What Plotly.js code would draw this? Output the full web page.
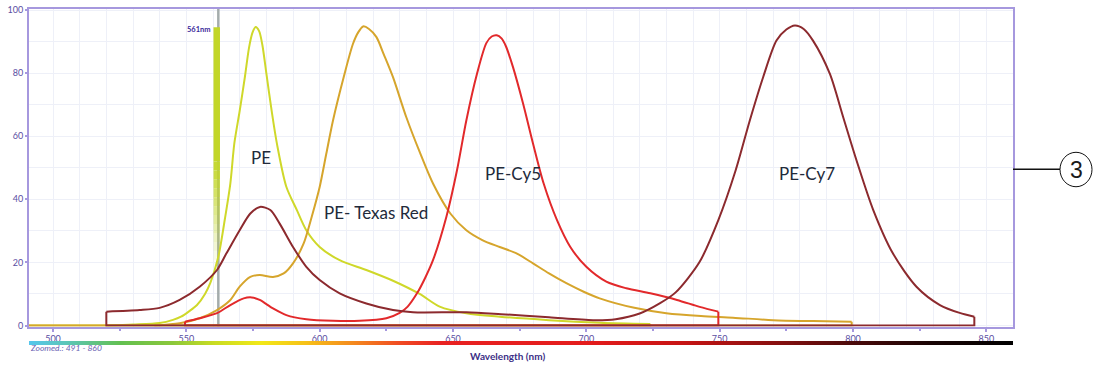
<!DOCTYPE html>
<html>
<head>
<meta charset="utf-8">
<script src="https://cdn.plot.ly/plotly-3.0.1.min.js"></script>
<style>html,body{margin:0;padding:0;background:#fff;}#chart{width:1093px;height:368px;}</style>
</head>
<body>
<div id="chart"></div>
<script>
// ---- data (wavelength nm, relative intensity %) ----
const PE_NM  = [491, 520, 530, 540, 545, 548, 551, 554, 557, 559, 562, 564.5, 566.5, 568, 570, 572, 573.5, 574.8, 576, 577.3, 578.5, 580, 582, 584, 587.5, 591.5, 595, 600, 607.5, 617.5, 627.5, 637.5, 645, 655, 667.5, 686, 705, 724, 724];
const PE_VAL = [0, 0, 0.3, 0.8, 1.8, 2.8, 4.5, 6.5, 10, 13.5, 21.8, 34, 45, 57.7, 68, 79, 88, 92.8, 94.6, 93.3, 89, 80, 68, 57.5, 44, 36.5, 30.2, 24.9, 20.7, 17.6, 14.2, 10, 6.0, 3.9, 2.8, 1.7, 0.9, 0.5, 0];

const TR_NM  = [491, 538, 547.5, 555, 561.5, 566.5, 570, 574, 577.5, 582.5, 586.5, 590, 594, 597, 600, 602.5, 605, 609, 612.5, 614.5, 616.3, 618.5, 621.3, 624, 627.5, 632.5, 637.5, 642.5, 649, 655, 661, 667.5, 674, 680, 686, 692.5, 699, 705, 718, 730, 743, 755, 770, 785, 799.5, 799.5];
const TR_VAL = [0, 0, 0.7, 2.3, 4.9, 8.1, 12.3, 15.4, 16, 15.4, 16.5, 19.7, 26, 34.4, 43.9, 54.5, 65, 78.7, 89.3, 93, 94.8, 94, 91.4, 86, 78.7, 66, 55, 45, 35.5, 30.2, 27.1, 24.9, 22.8, 19.7, 16.5, 13.4, 10.7, 8.6, 5.6, 3.9, 3.0, 2.5, 1.7, 1.4, 1.2, 0];

const CY5_NM  = [549.5, 549.5, 555, 561.5, 566.5, 571.5, 574.5, 577.5, 582.5, 587.5, 595, 605, 615, 625, 630, 633, 636.5, 639.5, 642.5, 647.5, 651.5, 655, 659, 662.5, 664.5, 666.4, 668.2, 669.8, 672.5, 676.3, 680, 684, 689, 694, 700, 707.5, 715, 724, 734, 742.5, 749.5, 749.5];
const CY5_VAL = [0, 1.2, 2.3, 3.9, 6.5, 8.6, 8.9, 8.1, 5.4, 3.3, 2.0, 1.5, 1.5, 2.3, 4.0, 6.0, 10.2, 15, 20.7, 34.4, 49.2, 65, 79.8, 89.5, 91.6, 92, 91, 88.6, 81.9, 70.3, 57.7, 45, 33.4, 24.9, 18.6, 13.9, 11.8, 10.2, 8.1, 5.9, 4.4, 0];

const CY7_NM  = [520, 520, 532.5, 540, 547.5, 555, 561.5, 565, 570, 574, 577.6, 581.5, 585, 590, 595, 600, 607.5, 617.5, 627.5, 635, 655, 668, 686, 702.5, 711, 720, 727.5, 733.5, 742.5, 749.5, 756, 761.3, 766.3, 771.3, 775, 778.2, 781.5, 785, 791.3, 796.3, 801.3, 807.6, 815, 823.8, 832.6, 840, 845.5, 845.5];
const CY7_VAL = [0, 4.4, 4.9, 5.6, 8.1, 12.3, 17.6, 22.8, 30.2, 35.5, 37.6, 36.6, 32.3, 24.9, 18.6, 14.4, 10.2, 7.0, 4.9, 4.2, 4.2, 3.6, 2.6, 1.7, 2.0, 3.8, 7.0, 10.5, 20.2, 33.4, 49.2, 65, 78.7, 90.3, 93.8, 95.1, 94, 90.3, 79.8, 66.1, 52.4, 36.6, 22.8, 12.3, 6.5, 4.0, 2.8, 0];

const SERIES_NAMES = ['PE', 'PE- Texas Red', 'PE-Cy5', 'PE-Cy7'];
const LABEL_NM  = [578, 621, 672.4, 782.9];
const LABEL_VAL = [53.4, 35.8, 48.3, 48.3];

const LASER_NM = 562;
const LASER_LABEL = '561nm';
const LASER_TOP = 94.5, LASER_SOLID = 52, LASER_FADE = 18;

const RANGE_NM = [491, 860];
const X_TICKS = [500, 550, 600, 650, 700, 750, 800, 850];
const Y_TICKS = [0, 20, 40, 60, 80, 100];
const SPECTRUM_NM  = [491, 505, 525, 545, 560, 578, 595, 612, 630, 645, 700, 735, 770, 800, 830, 860];
const SPECTRUM_COL = ['#56c6ec', '#5cc6b8', '#62c050', '#8cc83a', '#c8dc22', '#f2e818', '#f6c018', '#f48a1e', '#f04a22', '#e82222', '#e41c1c', '#c81414', '#8a1010', '#4a0a0a', '#180404', '#000000'];

// ---- layout geometry ----
const W = 1093, H = 368, ML = 29, MR = 80, MT = 8.5, MB = 23;
const PW = W - ML - MR, PH = H - MT - MB;
const px2x = p => (p - ML) / PW;
const py2y = p => (H - MB - p) / PH;

const COLORS = ['#cfd82a', '#d6a52c', '#e2292b', '#8c2a2e'];

const traces = [];
// spectrum bar (heatmap on its own thin axis)
const lo = RANGE_NM[0], hi = RANGE_NM[1];
traces.push({
  type: 'heatmap', x: SPECTRUM_NM, y: [0], z: [SPECTRUM_NM], xaxis: 'x', yaxis: 'y2',
  zsmooth: 'best', showscale: false, hoverinfo: 'skip', zmin: lo, zmax: hi,
  colorscale: SPECTRUM_NM.map((v, i) => [(v - lo) / (hi - lo), SPECTRUM_COL[i]])
});
// laser line
traces.push({type: 'scatter', mode: 'lines', x: [LASER_NM, LASER_NM], y: [-0.3, 100.3],
  line: {color: '#a4acac', width: 2.5}, hoverinfo: 'skip', showlegend: false});
// laser band: solid part then fading steps
const BX = LASER_NM - 0.6;
traces.push({type: 'scatter', mode: 'lines', x: [BX, BX], y: [LASER_TOP, LASER_SOLID],
  line: {color: 'rgb(194,214,40)', width: 6.5}, hoverinfo: 'skip', showlegend: false});
const STEPS = 12;
for (let k = 0; k < STEPS; k++) {
  const y0 = LASER_SOLID - k * (LASER_SOLID - LASER_FADE) / STEPS;
  const y1 = LASER_SOLID - (k + 1) * (LASER_SOLID - LASER_FADE) / STEPS;
  const a = (1 - (k + 0.5) / STEPS).toFixed(3);
  traces.push({type: 'scatter', mode: 'lines', x: [BX, BX], y: [y0, y1],
    line: {color: 'rgba(194,214,40,' + a + ')', width: 6.5}, hoverinfo: 'skip', showlegend: false});
}

const NMS = [PE_NM, TR_NM, CY5_NM, CY7_NM];
const VALS = [PE_VAL, TR_VAL, CY5_VAL, CY7_VAL];
for (let i = 0; i < 4; i++) {
  const x = NMS[i], y = VALS[i], n = x.length;
  // smooth spectrum outline
  traces.push({type: 'scatter', mode: 'lines', name: SERIES_NAMES[i],
    x: x.slice(1, n - 1), y: y.slice(1, n - 1),
    line: {color: COLORS[i], width: 2, shape: 'spline', smoothing: 0.8},
    hoverinfo: 'skip', showlegend: false});
  // straight edges and baseline closing the outline
  traces.push({type: 'scatter', mode: 'lines',
    x: [x[n - 2], x[n - 1], x[0], x[1]], y: [y[n - 2], y[n - 1], y[0], y[1]],
    line: {color: COLORS[i], width: 2}, hoverinfo: 'skip', showlegend: false});
}
// minor tick dots overlay axis
traces.push({type: 'scatter', x: [RANGE_NM[0]], y: [0], xaxis: 'x2', yaxis: 'y', mode: 'markers',
  marker: {opacity: 0}, hoverinfo: 'skip', showlegend: false});

const AX = '#a698de', TICKC = '#5a4ea2', GRID = '#eef0f8';
const labelFont = {family: 'Lato, "Open Sans", sans-serif', size: 17, color: '#222a3a'};

const annotations = SERIES_NAMES.map((t, i) => ({
  x: LABEL_NM[i], y: LABEL_VAL[i], xref: 'x', yref: 'y', text: t, showarrow: false,
  font: labelFont, xanchor: 'center', yanchor: 'middle'
}));
annotations.push({x: LASER_NM, y: 93.7, xref: 'x', yref: 'y', text: '<b>' + LASER_LABEL + '</b>', showarrow: false,
  xanchor: 'right', yanchor: 'middle', xshift: -5, font: {family: 'Lato, sans-serif', size: 7.5, color: '#3a2a9a'}});
annotations.push({x: px2x(507), y: py2y(356.5), xref: 'paper', yref: 'paper', text: '<b>Wavelength (nm)</b>', showarrow: false,
  xanchor: 'center', yanchor: 'middle', font: {family: 'Lato, sans-serif', size: 10, color: '#3c2f86'}});
annotations.push({x: px2x(28), y: py2y(348.5), xref: 'paper', yref: 'paper', text: '<i>Zoomed.: ' + RANGE_NM[0] + ' - ' + RANGE_NM[1] + '</i>', showarrow: false,
  xanchor: 'left', yanchor: 'middle', font: {family: 'Lato, sans-serif', size: 8.5, color: '#6a62b4'}});
annotations.push({x: px2x(1076), y: py2y(169.5), xref: 'paper', yref: 'paper', text: '3', showarrow: false,
  xanchor: 'center', yanchor: 'middle', font: {family: '"Liberation Sans", Arial, sans-serif', size: 23, color: '#1a1a1a'}});

const shapes = [
  {type: 'line', xref: 'paper', yref: 'paper', x0: px2x(1013), x1: px2x(1060), y0: py2y(169), y1: py2y(169), line: {color: '#111', width: 1.5}},
  {type: 'circle', xref: 'paper', yref: 'paper', x0: px2x(1060), x1: px2x(1092), y0: py2y(152), y1: py2y(186.5), line: {color: '#111', width: 1}}
];

const yMainBottom = (H - MB - 326.5) / PH;
const layout = {
  width: W, height: H, margin: {l: ML, r: MR, t: MT, b: MB, pad: 0},
  paper_bgcolor: '#fff', plot_bgcolor: '#fff', showlegend: false,
  xaxis: {range: RANGE_NM, anchor: 'y', tickvals: X_TICKS, ticks: 'outside', ticklen: 3, tickwidth: 2, tickcolor: AX,
    showgrid: true, gridcolor: GRID, gridwidth: 1, zeroline: false, layer: 'below traces',
    minor: {dtick: 10, tick0: 500, showgrid: true, gridcolor: GRID, gridwidth: 1, ticks: ''},
    showline: true, linecolor: AX, linewidth: 2, mirror: true,
    tickfont: {family: 'Lato, sans-serif', size: 9, color: TICKC}},
  xaxis2: {range: RANGE_NM, overlaying: 'x', anchor: 'y', side: 'bottom', dtick: 25, tick0: 500, ticks: 'outside', ticklen: 3, tickwidth: 2,
    tickcolor: AX, showticklabels: false, showgrid: false, zeroline: false, showline: false},
  yaxis: {range: [-0.32, 100.32], domain: [yMainBottom, 1], tickvals: Y_TICKS, ticks: 'outside', ticklen: 2, tickwidth: 2, tickcolor: AX,
    showgrid: true, gridcolor: GRID, zeroline: false, layer: 'below traces',
    minor: {dtick: 10, tick0: 0, showgrid: true, gridcolor: GRID, ticks: ''},
    showline: true, linecolor: AX, linewidth: 2, mirror: true,
    tickfont: {family: 'Lato, sans-serif', size: 9, color: TICKC}},
  yaxis2: {domain: [0, 4 / PH], range: [-0.5, 0.5], visible: false, anchor: 'x'},
  annotations: annotations, shapes: shapes
};
Plotly.newPlot('chart', traces, layout, {displayModeBar: false, staticPlot: true});
</script>
</body>
</html>
